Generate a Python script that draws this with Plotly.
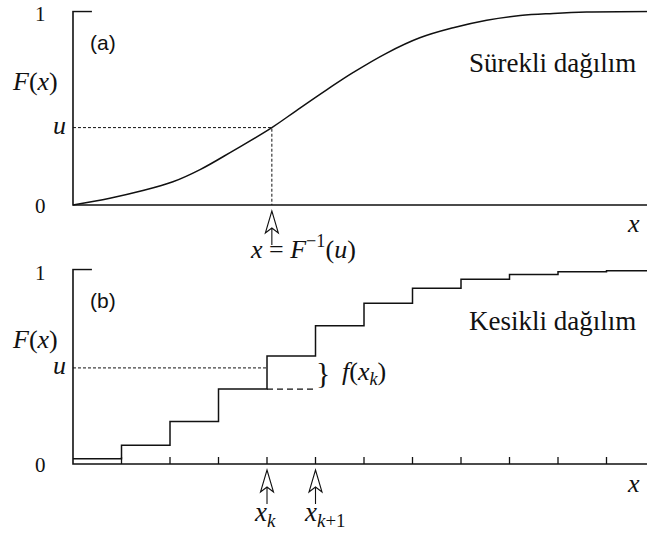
import plotly.graph_objects as go

# ---- data -------------------------------------------------------------
# continuous CDF (panel a)
cont_x = [0, 0.76, 1.4, 2.06, 2.62, 3.3, 4.1, 4.6, 5.23, 5.78, 6.46, 7.15,
          7.84, 8.53, 9.22, 9.9, 10.59, 11.84]
cont_F = [0, 0.035, 0.072, 0.12, 0.183, 0.28, 0.40, 0.487, 0.595, 0.685, 0.784,
          0.864, 0.916, 0.955, 0.979, 0.990, 0.997, 1.0]
u_cont = 0.40
x_inv = 4.1

# discrete CDF (panel b): level held on [k, k+1)
step_edges = list(range(0, 12)) + [11.84]
step_levels = [0.027, 0.096, 0.219, 0.385, 0.555, 0.711, 0.827, 0.903,
               0.950, 0.974, 0.988, 0.994]
u_disc = 0.494
k_idx = 4
tick_x = list(range(1, 12))

y_ticks = [0, 1]
y_tick_text = ["0", "1"]

# ---- geometry ---------------------------------------------------------
W, H = 647, 533
X_LO, X_HI = -0.03, 11.835
TICK_LEN = 0.036           # tick height, in F units


def xdomain(x0_px, unit_px):
    left = x0_px + X_LO * unit_px
    right = x0_px + X_HI * unit_px
    return [left / W, min(right / W, 1.0)]


def ydomain(f0_px, f1_px, lo, hi):
    per = f0_px - f1_px
    top = f0_px - hi * per
    bot = f0_px - lo * per
    return [max((H - bot) / H, 0.0), min((H - top) / H, 1.0)]


TOP_RANGE = [-0.30, 1.006]
BOT_RANGE = [-0.35, 1.006]

BLACK = "#111111"
SERIF = "Liberation Serif, Times New Roman, serif"
SANS = "Liberation Sans, Arial, sans-serif"

fig = go.Figure()

# panel (a)
fig.add_trace(go.Scatter(x=cont_x, y=cont_F, mode="lines",
                         line=dict(color=BLACK, width=1.5, shape="spline", smoothing=1.1),
                         xaxis="x", yaxis="y", hoverinfo="skip"))
fig.add_trace(go.Scatter(x=[0, x_inv, x_inv], y=[u_cont, u_cont, 0], mode="lines",
                         line=dict(color=BLACK, width=1, dash="3px,2px"),
                         xaxis="x", yaxis="y", hoverinfo="skip"))

# panel (b)
fig.add_trace(go.Scatter(x=step_edges, y=step_levels + [step_levels[-1]], mode="lines",
                         line=dict(color=BLACK, width=1.5, shape="hv"),
                         xaxis="x2", yaxis="y2", hoverinfo="skip"))
fig.add_trace(go.Scatter(x=[0, k_idx], y=[u_disc, u_disc], mode="lines",
                         line=dict(color=BLACK, width=1, dash="3px,2px"),
                         xaxis="x2", yaxis="y2", hoverinfo="skip"))
fig.add_trace(go.Scatter(x=[k_idx, k_idx + 1], y=[step_levels[k_idx - 1]] * 2, mode="lines",
                         line=dict(color=BLACK, width=1.2, dash="6px,4px"),
                         xaxis="x2", yaxis="y2", hoverinfo="skip"))

# tick marks on the discrete axis
tx, ty = [], []
for t in tick_x:
    tx += [t, t, None]
    ty += [0, TICK_LEN, None]
fig.add_trace(go.Scatter(x=tx, y=ty, mode="lines", line=dict(color=BLACK, width=1.3),
                         xaxis="x2", yaxis="y2", hoverinfo="skip"))

# axis frames
for xa, ya in (("x", "y"), ("x2", "y2")):
    fig.add_trace(go.Scatter(x=[0.39, 0, 0, X_HI], y=[1, 1, 0, 0], mode="lines",
                             line=dict(color=BLACK, width=1.6),
                             xaxis=xa, yaxis=ya, hoverinfo="skip"))

# hollow arrows pointing up at the axis
ARROW = "M0,-6 L6.5,-28 L0,-23 L-6.5,-28 Z M0,-23 L0,-40"
shapes = []
for xv, xr, yr in ((x_inv, "x", "y"), (k_idx, "x2", "y2"), (k_idx + 1, "x2", "y2")):
    shapes.append(dict(type="path", xref=xr, yref=yr, xsizemode="pixel", ysizemode="pixel",
                       xanchor=xv, yanchor=0, path=ARROW,
                       line=dict(color=BLACK, width=1.1), fillcolor="white"))

ann = []


def text(s, x, y, xr, yr, size, family=SERIF, xanchor="center", xshift=0, yshift=0):
    ann.append(dict(text=s, x=x, y=y, xref=xr, yref=yr, showarrow=False,
                    xanchor=xanchor, yanchor="middle", xshift=xshift, yshift=yshift,
                    font=dict(family=family, size=size, color=BLACK)))


for xr, yr, u_val, tag, name in (("x", "y", u_cont, "(a)", "Sürekli dağılım"),
                                 ("x2", "y2", u_disc, "(b)", "Kesikli dağılım")):
    for tv, tt in zip(y_ticks, y_tick_text):
        text(tt, 0, tv, xr, yr, 21, xanchor="right", xshift=-25, yshift=-3 if tv else -1)
    text("<i>u</i>", 0, u_val, xr, yr, 26, xanchor="right", xshift=-5, yshift=2)
    text("<i>F</i>(<i>x</i>)", 0, 0.64, xr, yr, 26, xanchor="right", xshift=-13)
    text(tag, 0.62, 0.84, xr, yr, 21, family=SANS)
    text(name, 9.88, 0.735, xr, yr, 27)
    text("<i>x</i>", 11.55, 0, xr, yr, 26, yshift=-19)

text("<i>x</i> = <i>F</i><sup>−1</sup>(<i>u</i>)", 4.75, 0, "x", "y", 26, yshift=-43)
text("}", 5.15, 0.47, "x2", "y2", 30)
text("<i>f</i>(<i>x</i><sub><i>k</i></sub>)", 5.5, 0.47, "x2", "y2", 26, xanchor="left")
text("<i>x</i><sub><i>k</i></sub>", 3.7, 0, "x2", "y2", 27, xanchor="left", yshift=-50)
text("<i>x</i><sub><i>k</i>+1</sub>", 4.73, 0, "x2", "y2", 27, xanchor="left", yshift=-50)

XDOM = xdomain(73, 48.5)
common_x = dict(range=[X_LO, X_HI], domain=XDOM, showgrid=False, zeroline=False,
                showline=False, showticklabels=False, ticks="")
common_y = dict(showgrid=False, zeroline=False,
                showline=False, showticklabels=False, ticks="")

fig.update_layout(
    width=W, height=H, margin=dict(l=0, r=0, t=0, b=0),
    paper_bgcolor="white", plot_bgcolor="white", showlegend=False,
    xaxis=dict(**common_x, anchor="y"),
    yaxis=dict(**common_y, range=TOP_RANGE, domain=ydomain(205, 11.5, *TOP_RANGE), anchor="x"),
    xaxis2=dict(**common_x, anchor="y2"),
    yaxis2=dict(**common_y, range=BOT_RANGE, domain=ydomain(464, 269.5, *BOT_RANGE), anchor="x2"),
    shapes=shapes, annotations=ann,
)

fig.write_html("out.html")
